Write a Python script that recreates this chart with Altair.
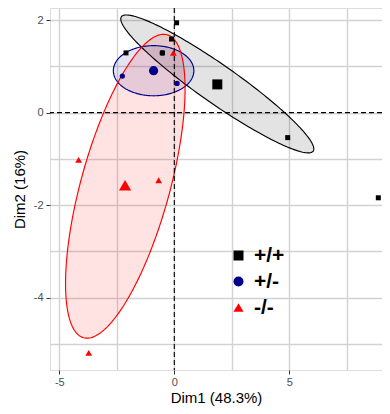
import numpy as np
import pandas as pd
import altair as alt

# ---------------- data ----------------
groups = ["+/+", "+/-", "-/-"]
group_colors = ["#000000", "#00008B", "#FF0000"]
group_shapes = ["square", "circle", "triangle-up"]

# individuals (Dim1, Dim2)
pp_x = [-2.10, -0.52, -0.12, 0.10, 4.93, 8.87]
pp_y = [1.29, 1.29, 1.59, 1.94, -0.54, -1.84]
pm_x = [-2.26, -0.52, 0.12]
pm_y = [0.79, 1.29, 0.63]
mm_x = [-0.04, -4.16, -0.68, -3.72]
mm_y = [1.29, -1.02, -1.46, -5.19]

# group centroids
cent_x = [1.87, -0.90, -2.14]
cent_y = [0.61, 0.905, -1.57]

# ellipses: centre, semi-axes (in Dim1 units on screen), tilt in degrees
ell_cx = [1.87, -0.90, -2.13]
ell_cy = [0.62, 0.905, -1.59]
ell_a = [5.09, 1.75, 6.83]
ell_b = [0.83, 1.09, 1.93]
ell_angle = [-35.0, 0.0, 74.6]
SCREEN_RATIO = 2.012  # pixels per Dim2 unit / pixels per Dim1 unit

x_grid = [-5, -2.5, 0, 2.5, 5, 7.5]
y_grid = [-5, -4, -3, -2, -1, 0, 1, 2]
zero_lines = [0]

x_title = "Dim1 (48.3%)"
y_title = "Dim2 (16%)"

# marker areas per group (individuals, centroids)
point_sizes = [25, 28, 46]
centroid_sizes = [100, 85, 150]

indiv = {groups[0]: (pp_x, pp_y), groups[1]: (pm_x, pm_y), groups[2]: (mm_x, mm_y)}

# ---------------- scales / axes ----------------
xs = alt.Scale(domain=[-5.404, 9.03], nice=False, zero=False)
ys = alt.Scale(domain=[-5.56, 2.26], nice=False, zero=False)

x_axis = alt.Axis(
    title=x_title, values=x_grid,
    labelExpr="datum.value % 5 === 0 ? toString(datum.value) : ''",
    tickOpacity={"condition": {"test": "datum.value % 5 === 0", "value": 1}, "value": 0},
    grid=True, gridColor="#d2d2d2", gridWidth=1.4, domain=False,
    tickSize=4, tickColor="#333333", labelPadding=2, labelFontSize=11,
    labelColor="#4d4d4d", titleFontSize=15, titleFontWeight="normal",
    titleColor="#000000", titlePadding=3, labelFont="Liberation Sans",
    titleFont="Liberation Sans",
)
y_axis = alt.Axis(
    title=y_title, values=y_grid,
    labelExpr="datum.value % 2 === 0 ? toString(datum.value) : ''",
    tickOpacity={"condition": {"test": "datum.value % 2 === 0", "value": 1}, "value": 0},
    grid=True, gridColor="#d2d2d2", gridWidth=1.4, domain=False,
    tickSize=4, tickColor="#333333", labelPadding=3, labelFontSize=11,
    labelColor="#4d4d4d", titleFontSize=15, titleFontWeight="normal",
    titleColor="#000000", titlePadding=6, labelFont="Liberation Sans",
    titleFont="Liberation Sans",
)

base_x = alt.X("x:Q", scale=xs, axis=x_axis)
base_y = alt.Y("y:Q", scale=ys, axis=y_axis)

# ---------------- ellipse layers (one fill + one outline per group) ----------------
ellipse_layers = []
outline_layers = []
for k, (g, cx, cy, a, b, ang) in enumerate(zip(groups, ell_cx, ell_cy, ell_a, ell_b, ell_angle)):
    th = np.deg2rad(ang)
    c, s = np.cos(th), np.sin(th)
    t = np.linspace(0, 2 * np.pi, 241)
    du = a * np.cos(t) * c - b * np.sin(t) * s
    dw = a * np.cos(t) * s + b * np.sin(t) * c
    outline = pd.DataFrame({"i": np.arange(len(t)), "x": cx + du, "y": cy + dw / SCREEN_RATIO})
    A = c * c / a ** 2 + s * s / b ** 2
    B = 2 * c * s * (1 / a ** 2 - 1 / b ** 2)
    C = s * s / a ** 2 + c * c / b ** 2
    X = np.sqrt(a * a * c * c + b * b * s * s)
    us = -X * np.cos(np.linspace(0, np.pi, 201))
    disc = np.clip(B * B * us * us - 4 * C * (A * us * us - 1), 0, None)
    w1 = (-B * us - np.sqrt(disc)) / (2 * C)
    w2 = (-B * us + np.sqrt(disc)) / (2 * C)
    fill = pd.DataFrame({"x": cx + us, "ylo": cy + w1 / SCREEN_RATIO, "yhi": cy + w2 / SCREEN_RATIO})

    ellipse_layers.append(
        alt.Chart(fill).mark_area(fill=group_colors[k], fillOpacity=0.11, strokeWidth=0).encode(
            x=base_x, y=alt.Y("ylo:Q", scale=ys, axis=y_axis), y2="yhi:Q"
        )
    )
    outline_layers.append(
        alt.Chart(outline).mark_line(stroke=group_colors[k], strokeWidth=1.15).encode(
            x=base_x, y=base_y, order="i:Q"
        )
    )

vrule = alt.Chart(pd.DataFrame({"v": zero_lines})).mark_rule(
    color="black", strokeDash=[5, 3], strokeWidth=1.1
).encode(x=alt.X("v:Q", scale=xs, axis=x_axis))
hrule = alt.Chart(pd.DataFrame({"v": zero_lines})).mark_rule(
    color="black", strokeDash=[5, 3], strokeWidth=1.1
).encode(y=alt.Y("v:Q", scale=ys, axis=y_axis))

legend = alt.Legend(
    title=None, orient="none", legendX=178, legendY=237,
    symbolSize=100, symbolStrokeWidth=0, padding=0,
    labelFont="Liberation Sans", labelFontWeight="bold", labelFontSize=21,
    labelColor="#000000", labelOffset=5, rowPadding=4,
)
color_enc = alt.Color("group:N", scale=alt.Scale(domain=groups, range=group_colors), legend=legend)
shape_enc = alt.Shape("group:N", scale=alt.Scale(domain=groups, range=group_shapes), legend=legend)

# draw order: +/- first, then +/+, then -/-
order = [1, 0, 2]
point_layers = []
for k in order:
    g = groups[k]
    xv, yv = indiv[g]
    df = pd.DataFrame({"x": xv, "y": yv, "group": [g] * len(xv)})
    point_layers.append(
        alt.Chart(df).mark_point(filled=True, opacity=1, size=point_sizes[k]).encode(
            x=base_x, y=base_y, color=color_enc, shape=shape_enc
        )
    )
for k in order:
    g = groups[k]
    df = pd.DataFrame({"x": [cent_x[k]], "y": [cent_y[k]], "group": [g]})
    point_layers.append(
        alt.Chart(df).mark_point(filled=True, opacity=1, size=centroid_sizes[k]).encode(
            x=base_x, y=base_y, color=color_enc, shape=shape_enc
        )
    )

chart = alt.layer(*ellipse_layers, *outline_layers, vrule, hrule, *point_layers).properties(
    width=332, height=362,
    autosize=alt.AutoSizeParams(type="none"),
    padding={"left": 42, "top": 0, "right": 0, "bottom": 44},
).configure_view(stroke=None).configure(background="white")

chart.save("out.html", embed_options={"renderer": "svg", "actions": False})
